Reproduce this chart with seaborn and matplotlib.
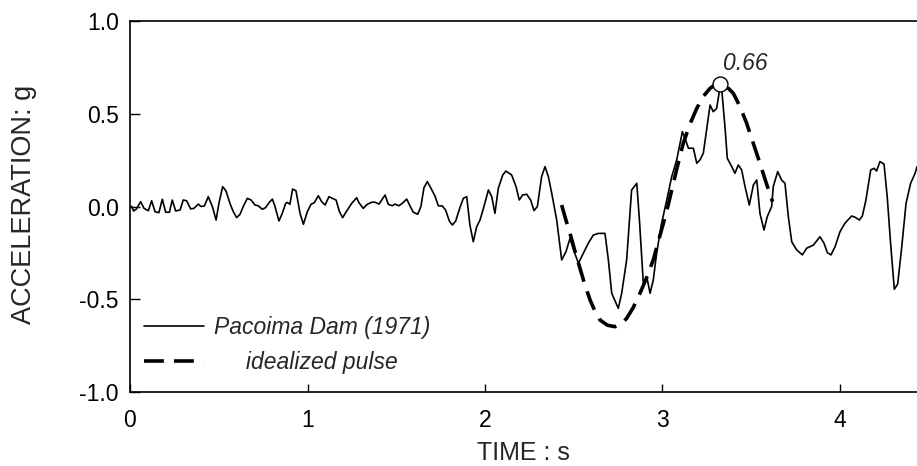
import matplotlib
matplotlib.use("Agg")
import matplotlib.pyplot as plt
import seaborn as sns
import numpy as np
import pandas as pd

rec_t = [0.0, 0.01, 0.02, 0.035, 0.06, 0.079, 0.103, 0.122, 0.141, 0.163, 0.182, 0.201, 0.222, 0.238, 0.257, 0.282, 0.30, 0.319, 0.342, 0.36,
         0.385, 0.40, 0.419, 0.441, 0.464, 0.485, 0.501, 0.522, 0.541, 0.563, 0.582, 0.601, 0.62, 0.638, 0.661, 0.682, 0.704, 0.723, 0.745, 0.764,
         0.783, 0.802, 0.817, 0.839, 0.858, 0.877, 0.886, 0.901, 0.916, 0.935, 0.958, 0.977, 0.999, 1.02, 1.038, 1.061, 1.08, 1.099, 1.121, 1.14,
         1.161, 1.18, 1.198, 1.221, 1.249, 1.277, 1.29, 1.314, 1.337, 1.362, 1.38, 1.403, 1.437, 1.455, 1.478, 1.493, 1.515, 1.534, 1.559, 1.577,
         1.596, 1.621, 1.639, 1.656, 1.675, 1.694, 1.718, 1.737, 1.759, 1.778, 1.799, 1.816, 1.835, 1.859, 1.878, 1.897, 1.915, 1.934, 1.953, 1.972,
         1.994, 2.019, 2.038, 2.056, 2.075, 2.1, 2.118, 2.15, 2.175, 2.193, 2.212, 2.235, 2.257, 2.276, 2.295, 2.319, 2.338, 2.357, 2.376, 2.404,
         2.432, 2.456, 2.479, 2.503, 2.526, 2.554, 2.582, 2.61, 2.638, 2.676, 2.695, 2.714, 2.751, 2.77, 2.798, 2.826, 2.855, 2.87, 2.892, 2.911,
         2.93, 2.948, 2.967, 2.995, 3.024, 3.052, 3.08, 3.112, 3.127, 3.146, 3.174, 3.193, 3.211, 3.23, 3.268, 3.286, 3.305, 3.32, 3.333, 3.352,
         3.365, 3.39, 3.408, 3.427, 3.446, 3.465, 3.489, 3.512, 3.531, 3.549, 3.572, 3.59, 3.615, 3.624, 3.649, 3.671, 3.69, 3.709, 3.728, 3.756,
         3.788, 3.812, 3.85, 3.887, 3.91, 3.929, 3.949, 3.972, 4.0, 4.028, 4.066, 4.085, 4.109, 4.126, 4.146, 4.173, 4.192, 4.206, 4.225, 4.248,
         4.266, 4.285, 4.306, 4.325, 4.348, 4.372, 4.398, 4.423, 4.434]
rec_a = [0.0, 0.0, -0.024, -0.015, 0.026, -0.01, -0.023, 0.031, -0.028, -0.033, 0.039, -0.031, -0.031, 0.035, -0.024, -0.019, 0.035, 0.031, -0.013, -0.01,
         0.013, 0.0, 0.003, 0.053, 0.0, -0.073, 0.017, 0.107, 0.084, 0.017, -0.028, -0.06, -0.042, 0.0, 0.044, 0.035, 0.008, 0.004, -0.015, -0.006,
         0.02, 0.04, 0.0, -0.078, -0.037, 0.017, 0.022, 0.012, 0.094, 0.085, -0.037, -0.096, -0.028, 0.012, 0.02, 0.058, 0.026, 0.008, 0.053, 0.044,
         0.035, -0.028, -0.06, -0.024, 0.017, 0.047, 0.02, -0.01, 0.012, 0.023, 0.023, 0.013, 0.062, 0.012, 0.004, 0.013, 0.004, 0.017, 0.04, 0.004,
         -0.031, -0.042, 0.0, 0.101, 0.134, 0.101, 0.057, 0.004, 0.003, -0.019, -0.078, -0.1, -0.078, -0.005, 0.044, 0.053, -0.1, -0.19, -0.109, -0.073,
         0.0, 0.089, 0.053, -0.037, 0.098, 0.17, 0.191, 0.17, 0.107, 0.035, 0.062, 0.066, 0.035, -0.022, 0.0, 0.161, 0.215, 0.161, 0.071, -0.073,
         -0.288, -0.244, -0.172, -0.244, -0.306, -0.252, -0.198, -0.154, -0.145, -0.145, -0.288, -0.468, -0.549, -0.468, -0.288, 0.089, 0.125, -0.073, -0.414, -0.378,
         -0.468, -0.396, -0.252, -0.09, 0.035, 0.161, 0.251, 0.403, 0.367, 0.314, 0.314, 0.233, 0.251, 0.287, 0.547, 0.511, 0.529, 0.619, 0.637, 0.43,
         0.26, 0.215, 0.179, 0.224, 0.197, 0.107, 0.008, 0.116, 0.143, -0.037, -0.127, -0.055, 0.0, 0.107, 0.188, 0.143, 0.125, -0.055, -0.19, -0.234,
         -0.261, -0.225, -0.208, -0.163, -0.198, -0.249, -0.261, -0.217, -0.136, -0.09, -0.051, -0.058, -0.073, -0.051, 0.035, 0.197, 0.206, 0.191, 0.242, 0.229,
         0.053, -0.198, -0.446, -0.418, -0.217, 0.017, 0.125, 0.179, 0.215]

# Idealized pulse
pulse_t = [2.432, 2.455, 2.479, 2.507, 2.535, 2.563, 2.592, 2.62, 2.648, 2.69, 2.732, 2.765, 2.798, 2.835, 2.873, 2.91, 2.948, 2.976,
           3.005, 3.03, 3.052, 3.085, 3.117, 3.155, 3.193, 3.23, 3.268, 3.296, 3.324, 3.36, 3.399, 3.436, 3.474, 3.51, 3.549, 3.585, 3.62]
pulse_a = [0.008, -0.07, -0.145, -0.242, -0.333, -0.423, -0.504, -0.565, -0.612, -0.64, -0.648, -0.635, -0.603, -0.545, -0.468, -0.385, -0.288, -0.19,
           -0.09, 0.0, 0.089, 0.22, 0.341, 0.445, 0.529, 0.594, 0.637, 0.657, 0.664, 0.648, 0.61, 0.54, 0.449, 0.345, 0.233, 0.125, 0.026]

peak_t = [3.324]
peak_a = [0.66]
peak_label = "0.66"

x_ticks = [0, 1, 2, 3, 4]
y_ticks = [-1.0, -0.5, 0.0, 0.5, 1.0]
y_tick_labels = ["-1.0", "-0.5", "0.0", "0.5", "1.0"]

sns.set_style("ticks")
plt.rcParams['font.family'] = ['Liberation Sans', 'DejaVu Sans']

fig = plt.figure(figsize=(9.17, 4.66), dpi=100)
W, H = 917, 466
ax = fig.add_axes([130 / W, (H - 392) / H, (917 - 130) / W, (392 - 21) / H])

rec_df = pd.DataFrame({"t": rec_t, "a": rec_a})
pulse_df = pd.DataFrame({"t": pulse_t, "a": pulse_a})

sns.lineplot(data=rec_df, x="t", y="a", ax=ax, color="black", lw=1.2,
             sort=False, estimator=None, label="Pacoima Dam (1971)")
sns.lineplot(data=pulse_df, x="t", y="a", ax=ax, color="black", lw=2.6,
             sort=False, estimator=None, label="     idealized pulse",
             linestyle=(0, (5.5, 2.8)))
sns.scatterplot(x=peak_t, y=peak_a, ax=ax, s=115, color="white",
                edgecolor="black", linewidth=1.0, zorder=5, legend=False)
ax.annotate(peak_label, (peak_t[0], peak_a[0]), xytext=(18, 15),
            textcoords="offset points", ha="center", va="center",
            fontsize=16.5, style="italic")

ax.set_xlim(0, (917 - 130) / 177.5)
ax.set_ylim(-1.0, 1.0)
ax.set_xticks(x_ticks)
ax.set_xticklabels([str(v) for v in x_ticks])
ax.set_yticks(y_ticks)
ax.set_yticklabels(y_tick_labels)
ax.tick_params(direction="in", length=6, width=1, labelsize=16.5, colors="black")
ax.tick_params(axis="x", pad=12.5)
ax.tick_params(axis="y", length=7, pad=8)
for s in ["left", "top", "bottom"]:
    ax.spines[s].set_linewidth(1.2)
    ax.spines[s].set_color("black")
ax.spines["right"].set_visible(False)

ax.set_xlabel("TIME : s", fontsize=18, labelpad=6)
ax.set_ylabel("ACCELERATION: g", fontsize=19.5)
ax.yaxis.set_label_coords(-0.118, 0.507)

leg = ax.legend(loc="lower left", frameon=False, prop={"size": 16.5, "style": "italic"},
                handlelength=2.6, handletextpad=0.45, borderaxespad=0.3,
                labelspacing=0.5, bbox_to_anchor=(-0.002, 0.006))

fig.savefig("out.png", dpi=100)
